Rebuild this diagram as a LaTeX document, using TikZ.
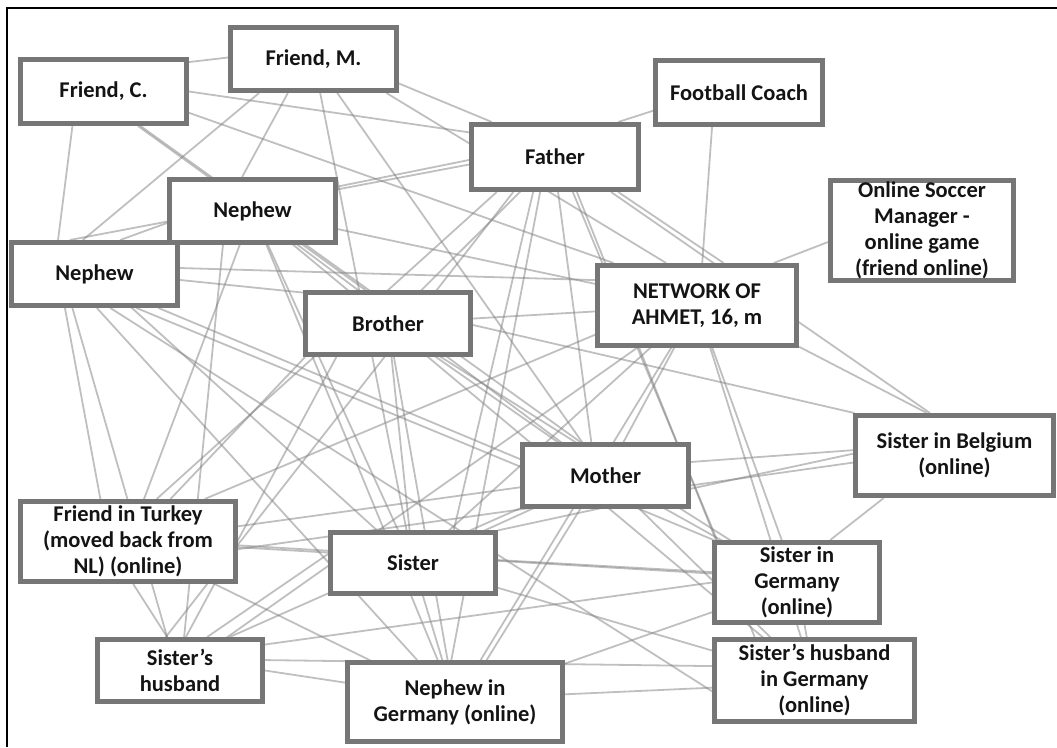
\documentclass[tikz,border=0pt]{standalone}
\usepackage{fontspec}
\setmainfont{Carlito}
\usetikzlibrary{backgrounds}
\definecolor{boxgray}{RGB}{118,118,118}
\definecolor{txt}{RGB}{20,20,20}
\begin{document}
\begin{tikzpicture}[x=1pt,y=-1pt,
  box/.style={draw=boxgray, line width=5pt, fill=white, inner sep=0pt, align=center,
    font=\fontsize{22.5}{26}\selectfont\bfseries, text=txt},
  link/.style={draw=black!50, draw opacity=0.5, line width=1.8pt}]
\useasboundingbox (0,0) rectangle (1057,747);
\draw[black, line width=1.2pt] (7,747) -- (7,8) -- (1057,8);

\node[box, minimum width=166pt, minimum height=64pt] (FC) at (103.5,91.5) {Friend, C.};
\node[box, minimum width=166pt, minimum height=63pt] (FM) at (313.5,59) {Friend, M.};
\node[box, minimum width=167pt, minimum height=64pt] (CO) at (739,92.5) {Football Coach};
\node[box, minimum width=167pt, minimum height=65pt] (FA) at (555,157) {Father};
\node[box, minimum width=166pt, minimum height=63pt] (NU) at (252.5,211) {Nephew};
\node[box, minimum width=166pt, minimum height=63pt] (NL) at (94.5,274) {Nephew};
\node[box, minimum width=183pt, minimum height=100pt] (OS) at (922,230.5) {Online Soccer\\Manager -\\online game\\(friend online)};
\node[box, minimum width=199pt, minimum height=80pt] (NW) at (697,305.5) {NETWORK OF\\AHMET, 16, m};
\node[box, minimum width=165pt, minimum height=62pt] (BR) at (388,323.5) {Brother};
\node[box, minimum width=198pt, minimum height=80pt] (SB) at (954.5,455.5) {Sister in Belgium\\(online)};
\node[box, minimum width=166pt, minimum height=62pt] (MO) at (605.5,475.5) {Mother};
\node[box, minimum width=215pt, minimum height=80pt] (FT) at (128,541.5) {Friend in Turkey\\(moved back from\\NL) (online)};
\node[box, minimum width=165pt, minimum height=61pt] (SI) at (413,563) {Sister};
\node[box, minimum width=165pt, minimum height=80pt] (SG) at (797,582.5) {Sister in\\Germany\\(online)};
\node[box, minimum width=165pt, minimum height=62pt] (SH) at (180,670.5) {Sister’s\\husband};
\node[box, minimum width=215pt, minimum height=79pt] (NG) at (455,702) {Nephew in\\Germany (online)};
\node[box, minimum width=200pt, minimum height=82pt] (HG) at (814.5,680.5) {Sister’s husband\\in Germany\\(online)};

\begin{scope}[on background layer]
% connectors with traced end points (node.angle)
\foreach \a/\b in {FC.19/FM.179, FC.0/FA.164, FC.-14/NW.153, FC.-43/MO.127, FC.-45/BR.124,
  FC.-132/NL.137, FM.-148/NL.109, FM.-127/NU.107, FM.-16/FA.151, FM.-25/NW.126,
  FA.29/CO.-168, CO.-128/NW.83, NW.29/OS.-173,
  NL.4/NW.166, NL.-4/BR.160, NL.-131/FT.123, NL.-123/SH.111, NL.-86/NG.132,
  NL.-65/HG.-174, NL.-39/MO.174, NL.-28/SG.153, NL.53/NU.-172,
  NU.-131/SH.83, FA.-149/FT.56, BR.-158/FT.45, BR.-147/SH.80, NW.-164/FT.29,
  FT.-3/SI.173, FT.-2/SG.174, SH.51/SI.174, SH.34/MO.-159, SH.111/FT.-83,
  SH.17/SG.180, SH.0/NG.170, SH.7/HG.172, NG.4/HG.-176, SI.2/SG.173,
  SI.21/SB.179, NW.-22/SB.123, FA.-32/SB.120, BR.-1/SB.157, MO.9/SB.177,
  FT.-4/SB.-176, SB.-149/SG.52,
  FA.-140/SH.113, FA.-122/SI.39, FA.-113/NG.95, FA.-85/MO.113, FA.-63/SG.152,
  FA.-58/HG.144, FA.-29/NW.58, FA.-178/NU.16, FA.185/NL.126, MO.-127/NG.53}
  \draw[link] (\a) -- (\b);
% remaining connectors
\foreach \a/\b in {FM/SI, FM/MO, FA/BR,
  NU/MO, NU/BR, NU/SI, NU/NG, NU/NW, NU/FT, NL/SI,
  BR/MO, BR/SI, BR/NG, BR/SG, BR/HG, BR/NW,
  NW/SG, NW/HG, NW/MO, NW/SI, NW/NG, NW/SH,
  MO/SI, MO/SG, MO/HG, MO/FT,
  FT/NG, SI/NG, SI/HG, NG/SG, SG/HG}
  \draw[link] (\a.center) -- (\b.center);
\end{scope}
\end{tikzpicture}
\end{document}
